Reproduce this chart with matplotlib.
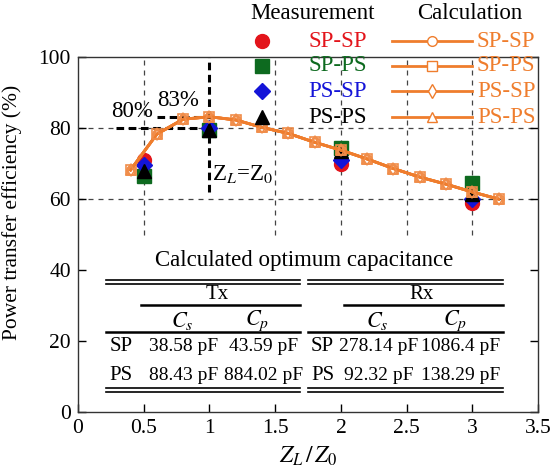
import matplotlib
matplotlib.use("Agg")
import matplotlib.pyplot as plt

plt.rcParams['font.family'] = ['Liberation Serif', 'DejaVu Serif']
plt.rcParams['mathtext.fontset'] = 'stix'

# ---- data ----
meas_x = [0.5, 1.0, 2.0, 3.0]
meas_sp_sp = [71.0, 80.0, 70.0, 59.0]
meas_sp_ps = [66.5, 79.5, 74.5, 64.5]
meas_ps_sp = [69.5, 80.0, 71.0, 60.0]
meas_ps_ps = [68.0, 79.5, 73.5, 61.5]

calc_x = [0.4, 0.6, 0.8, 1.0, 1.2, 1.4, 1.6, 1.8, 2.0, 2.2, 2.4, 2.6, 2.8, 3.0, 3.2]
calc_sp_sp = [68.2, 78.3, 82.5, 83.2, 82.3, 80.2, 78.5, 76.0, 73.8, 71.3, 68.6, 66.2, 64.2, 62.0, 60.0]
calc_sp_ps = [68.2, 78.3, 82.5, 83.2, 82.3, 80.2, 78.5, 76.0, 73.8, 71.3, 68.6, 66.2, 64.2, 62.0, 60.0]
calc_ps_sp = [68.2, 78.3, 82.5, 83.2, 82.3, 80.2, 78.5, 76.0, 73.8, 71.3, 68.6, 66.2, 64.2, 62.0, 60.0]
calc_ps_ps = [68.2, 78.3, 82.5, 83.2, 82.3, 80.2, 78.5, 76.0, 73.8, 71.3, 68.6, 66.2, 64.2, 62.0, 60.0]

labels = ['SP-SP', 'SP-PS', 'PS-SP', 'PS-PS']
meas_colors = ['#e3141b', '#0d6a1f', '#1414d8', 'black']
meas_markers = ['o', 's', 'D', '^']
meas_sizes = [10, 10, 8, 10]
calc_markers = ['o', 's', 'd', '^']
orange = '#ef7d2d'

tx_rows = ['SP', 'PS']
tx_cs = ['38.58 pF', '88.43 pF']
tx_cp = ['43.59 pF', '884.02 pF']
rx_cs = ['278.14 pF', '92.32 pF']
rx_cp = ['1086.4 pF', '138.29 pF']

fig = plt.figure(figsize=(5.53, 4.72), dpi=100)
ax = fig.add_axes([0.141, 0.127, 0.832, 0.752])
ax.set_xlim(0, 3.5)
ax.set_ylim(0, 100)
ax.set_xticks([0, 0.5, 1, 1.5, 2, 2.5, 3, 3.5])
ax.set_xticklabels(['0', '0.5', '1', '1.5', '2', '2.5', '3', '3.5'])
ax.set_yticks([0, 20, 40, 60, 80, 100])
ax.tick_params(direction='in', length=6, width=1, labelsize=15.5, top=False, right=True, pad=5)
for s in ax.spines.values():
    s.set_linewidth(1.0)
    s.set_color('#333333')

# grid (only visible above the table)
grid_kw = dict(color='#444444', linestyle=(0, (4, 4)), linewidth=0.9, zorder=0)
ax.vlines([0.5, 1.5, 2, 2.5, 3], 50, 100, **grid_kw)
ax.hlines([60, 80], 0, 3.5, **grid_kw)

# measurement markers
meas_sets = [meas_sp_sp, meas_sp_ps, meas_ps_sp, meas_ps_ps]
for ys, c, m, ms in zip(meas_sets, meas_colors, meas_markers, meas_sizes):
    ax.plot(meas_x, ys, linestyle='none', marker=m, color=c, markersize=ms, zorder=3)

# calculation curves
calc_sets = [calc_sp_sp, calc_sp_ps, calc_ps_sp, calc_ps_ps]
for ys, m in zip(calc_sets, calc_markers):
    ax.plot(calc_x, ys, '-', color=orange, linewidth=2, marker=m, markersize=6.5,
            markerfacecolor='none', markeredgecolor='#f08d4a', markeredgewidth=1.2, zorder=4)

# optimum markers
dash_kw = dict(color='black', linestyle=(0, (2.5, 1.5)), linewidth=2.2, zorder=2)
ax.plot([0.29, 1.0], [80, 80], **dash_kw)
ax.plot([0.6, 1.0], [83, 83], **dash_kw)
ax.plot([1.0, 1.0], [62, 100], **dash_kw)
ax.text(0.41, 84.7, '80%', fontsize=16.5, ha='center', va='center')
ax.text(0.76, 87.8, '83%', fontsize=16.5, ha='center', va='center')
ax.text(1.25, 67, r'Z$_L$=Z$_0$', fontsize=16.5, ha='center', va='center')

ax.set_xlabel(r'$Z_L\,/\,Z_0$', fontsize=17, labelpad=5)
ax.set_ylabel('Power transfer efficiency (%)', fontsize=15.5)
ax.yaxis.set_label_coords(-0.122, 0.563)

# ---- table ----
ax.text(1.72, 42.8, 'Calculated optimum capacitance', fontsize=16.5, ha='center', va='center')
line_kw = dict(color='black', linewidth=1.2, zorder=3)
for x0, x1 in [(0.21, 1.69), (1.75, 3.23)]:
    ax.plot([x0, x1], [37.2, 37.2], **line_kw)
    ax.plot([x0, x1], [36.2, 36.2], **line_kw)
    ax.plot([x0, x1], [22.5, 22.5], color='black', linewidth=1.8)
    ax.plot([x0, x1], [6.8, 6.8], **line_kw)
    ax.plot([x0, x1], [5.7, 5.7], **line_kw)
ax.plot([0.48, 1.69], [30.1, 30.1], color='black', linewidth=1.8)
ax.plot([2.02, 3.23], [30.1, 30.1], color='black', linewidth=1.8)
tfs = 14
ax.text(1.06, 33.2, 'Tx', fontsize=tfs + 1, ha='center', va='center')
ax.text(2.61, 33.2, 'Rx', fontsize=tfs + 1, ha='center', va='center')
for xc, lab in [(0.79, '$C_s$'), (1.36, '$C_p$'), (2.28, '$C_s$'), (2.87, '$C_p$')]:
    ax.text(xc, 25.6, lab, fontsize=tfs + 2, ha='center', va='center')
for i, yr in enumerate([18.6, 10.2]):
    ax.text(0.33, yr, tx_rows[i], fontsize=tfs + 1, ha='center', va='center')
    ax.text(0.80, yr, tx_cs[i], fontsize=tfs, ha='center', va='center')
    ax.text(1.41, yr, tx_cp[i], fontsize=tfs, ha='center', va='center')
    ax.text(1.86, yr, tx_rows[i], fontsize=tfs + 1, ha='center', va='center')
    ax.text(2.29, yr, rx_cs[i], fontsize=tfs, ha='center', va='center')
    ax.text(2.91, yr, rx_cp[i], fontsize=tfs, ha='center', va='center')

# ---- legend (manual, above the axes) ----
tr = ax.transAxes
rows_y = [1.045, 0.975, 0.904, 0.831]
ax.text(0.509, 1.124, 'Measurement', transform=tr, fontsize=16.5, ha='center', va='center')
ax.text(0.852, 1.124, 'Calculation', transform=tr, fontsize=16.5, ha='center', va='center')
for i, yr in enumerate(rows_y):
    ax.plot([0.40], [yr], transform=tr, marker=meas_markers[i], color=meas_colors[i],
            markersize=meas_sizes[i], linestyle='none', clip_on=False, zorder=5)
    ax.text(0.628, yr, labels[i], transform=tr, fontsize=16.5, color=meas_colors[i],
            ha='right', va='center')
    ax.plot([0.683, 0.857], [yr, yr], transform=tr, color=orange, linewidth=2, clip_on=False, zorder=5)
    ax.plot([0.770], [yr], transform=tr, marker=calc_markers[i], markersize=7, color=orange,
            markerfacecolor='white', markeredgewidth=1.0, clip_on=False, zorder=6)
    ax.text(0.867, yr, labels[i], transform=tr, fontsize=16.5, color=orange,
            ha='left', va='center')

fig.savefig('out.png', dpi=100)
